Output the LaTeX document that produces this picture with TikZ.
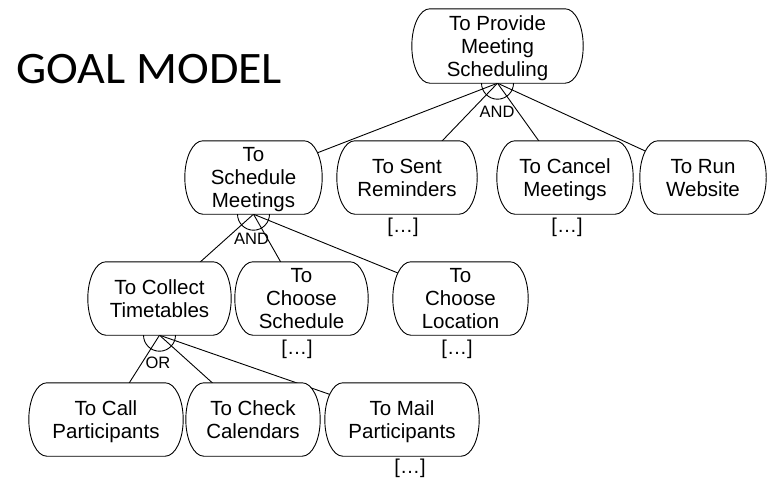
\documentclass[tikz,border=0pt]{standalone}
\usepackage{fontspec}
\setmainfont{Liberation Sans}
\newfontfamily\titlefont[FakeStretch=1.065]{Carlito}
\usetikzlibrary{calc}

\pgfdeclarelayer{wires}
\pgfdeclarelayer{boxes}
\pgfsetlayers{wires,boxes,main}

\tikzset{
  goal/.style={inner sep=0pt, align=center, minimum height=73pt,
    font=\fontsize{20.5}{23}\selectfont},
  link/.style={line width=0.9pt, black},
  decomp/.style={inner sep=0pt, font=\fontsize{16.5}{18}\selectfont},
  more/.style={inner sep=0pt, font=\fontsize{20}{22}\selectfont},
}

% last line of a goal label: its descenders do not shift the label
\newcommand\lastline[1]{\raisebox{0pt}[\height][0pt]{#1}}

% goal outline: straight top and bottom, half-elliptic ends
\newcommand\goaloutline[1]{%
  \begin{pgfonlayer}{boxes}
  \draw[link, fill=white] let \p1=(#1.north west), \p2=(#1.south east),
      \n1={(\y1-\y2)/2} in
    (\x1+18pt,\y1) -- (\x2-18pt,\y1)
    arc[start angle=90, end angle=-90, x radius=18pt, y radius=\n1]
    -- (\x1+18pt,\y2)
    arc[start angle=270, end angle=90, x radius=18pt, y radius=\n1] -- cycle;
  \end{pgfonlayer}}

% half circle under a refined goal
\newcommand\decomparc[1]{%
  \draw[link] ([xshift=-16pt]#1.south) arc[start angle=180, end angle=360, radius=16pt];}

\begin{document}
\begin{tikzpicture}[x=1pt, y=1pt]
\useasboundingbox (0,0) rectangle (767,-480);

\node[anchor=base west, inner sep=0pt, font=\titlefont\fontsize{45}{50}\selectfont]
  (title) at (16,-83) {GOAL MODEL};

% level 1
\node[goal, minimum width=171pt, minimum height=74pt] (p) at (497.5,-46)
  {To Provide\\Meeting\\\lastline{Scheduling}};

% level 2
\node[goal, minimum width=137pt] (sm) at (253.5,-177.5) {To\\Schedule\\\lastline{Meetings}};
\node[goal, minimum width=140pt] (sr) at (407,-177.5) {To Sent\\\lastline{Reminders}};
\node[goal, minimum width=136pt] (cm) at (565,-177.5) {To Cancel\\\lastline{Meetings}};
\node[goal, minimum width=126pt] (rw) at (703,-177.5) {To Run\\\lastline{Website}};

% level 3
\node[goal, minimum width=143pt] (ct) at (159.5,-298.5) {To Collect\\\lastline{Timetables}};
\node[goal, minimum width=133pt] (cs) at (301.5,-298.5) {To\\Choose\\\lastline{Schedule}};
\node[goal, minimum width=135pt] (cl) at (460.5,-298.5) {To\\Choose\\\lastline{Location}};

% level 4
\node[goal, minimum width=154pt] (cp) at (106,-419.5) {To Call\\\lastline{Participants}};
\node[goal, minimum width=134pt] (cc) at (253,-419.5) {To Check\\\lastline{Calendars}};
\node[goal, minimum width=154pt] (mp) at (402,-419.5) {To Mail\\\lastline{Participants}};

\foreach \g in {p,sm,sr,cm,rw,ct,cs,cl,cp,cc,mp} {\goaloutline{\g}}

% decompositions
\begin{pgfonlayer}{wires}
  \foreach \c in {sm,sr,cm,rw} {\draw[link] (p.south) -- (\c.center);}
  \foreach \c in {ct,cs,cl} {\draw[link] (sm.south) -- (\c.center);}
  \foreach \c in {cp,cc,mp} {\draw[link] (ct.south) -- (\c.center);}
\end{pgfonlayer}

\decomparc{p}
\decomparc{sm}
\decomparc{ct}

\node[decomp] (andp) at (497,-111.5) {AND};
\node[decomp] (andsm) at (251.5,-238.5) {AND};
\node[decomp] (orct) at (158,-362.5) {OR};

% elided sub-trees
\node[more] (dsr) at (403,-227.5) {[…]};
\node[more] (dcm) at (567,-227.5) {[…]};
\node[more] (dcs) at (297,-349) {[…]};
\node[more] (dcl) at (457,-349) {[…]};
\node[more] (dmp) at (410,-468) {[…]};
\end{tikzpicture}
\end{document}
